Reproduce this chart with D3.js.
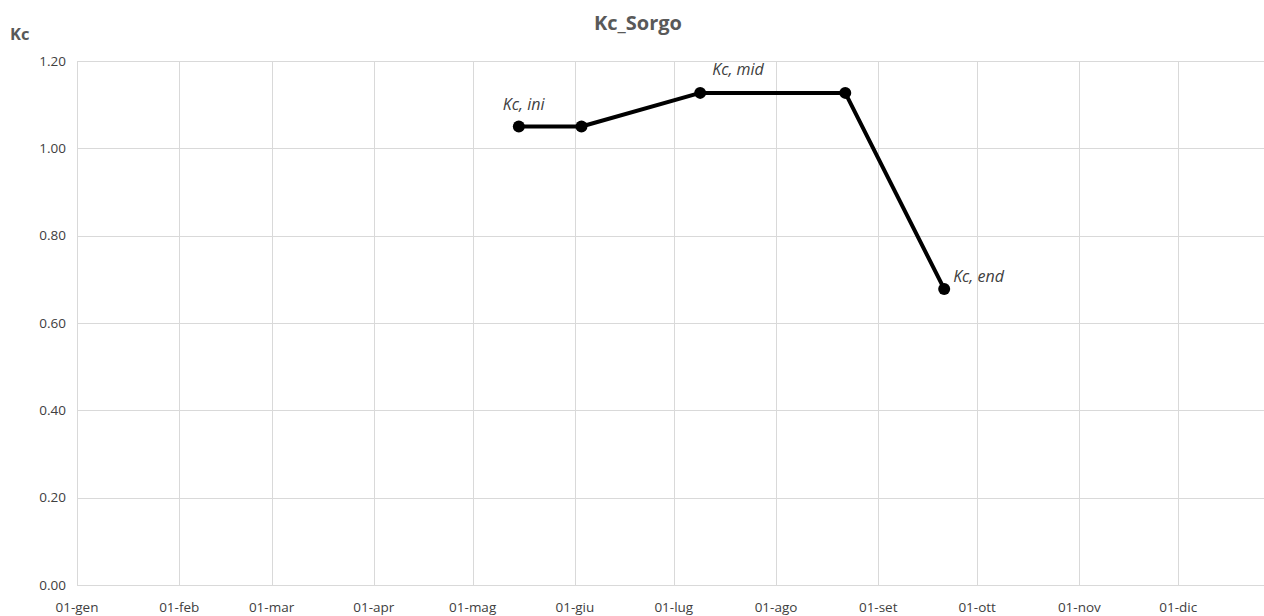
<!DOCTYPE html>
<html><head><meta charset="utf-8">
<script src="https://cdn.jsdelivr.net/npm/d3@7"></script>
<style>body{margin:0;background:#fff}svg{display:block}</style>
</head><body><svg id="c" width="1264" height="616"></svg>
<script>
const title = "Kc_Sorgo";
const yLabel = "Kc";
const dates = ["2021-05-15","2021-06-03","2021-07-09","2021-08-22","2021-09-21"];
const kcValues = [1.05, 1.05, 1.127, 1.127, 0.678];
const pointLabels = ["Kc, ini", null, "Kc, mid", null, "Kc, end"];
const monthTicks = ["01-gen","01-feb","01-mar","01-apr","01-mag","01-giu","01-lug","01-ago","01-set","01-ott","01-nov","01-dic"];
const yTicks = [0, 0.2, 0.4, 0.6, 0.8, 1.0, 1.2];

const parse = d3.timeParse("%Y-%m-%d");
const svg = d3.select("#c");
const L = 77, R = 1264, T = 61, B = 585;
const x = d3.scaleTime().domain([parse("2021-01-01"), parse("2021-12-27")]).range([L, R]);
const y = d3.scaleLinear().domain([0, 1.2]).range([B, T]);
const grid = "#d9d9d9";
const font = "'Open Sans', sans-serif";

const monthDates = d3.range(12).map(m => new Date(2021, m, 1));

// horizontal gridlines
svg.append("g").selectAll("line").data(yTicks).join("line")
  .attr("x1", L).attr("x2", R)
  .attr("y1", d => Math.round(y(d)) + 0.5).attr("y2", d => Math.round(y(d)) + 0.5)
  .attr("stroke", grid).attr("stroke-width", 1);
// vertical gridlines
svg.append("g").selectAll("line").data(monthDates).join("line")
  .attr("x1", d => Math.round(x(d)) + 0.5).attr("x2", d => Math.round(x(d)) + 0.5)
  .attr("y1", T).attr("y2", B)
  .attr("stroke", grid).attr("stroke-width", 1);

// y tick labels
svg.append("g").selectAll("text").data(yTicks).join("text")
  .attr("x", 66).attr("y", d => y(d)).attr("dy", "0.35em")
  .attr("text-anchor", "end").attr("font-family", font).attr("font-size", 13.5)
  .attr("fill", "#404040").text(d => d3.format(".2f")(d));

// x tick labels
svg.append("g").selectAll("text").data(monthDates).join("text")
  .attr("x", d => x(d)).attr("y", 607).attr("dy", "0.35em")
  .attr("text-anchor", "middle").attr("font-family", font).attr("font-size", 13.5)
  .attr("fill", "#404040").text((d, i) => monthTicks[i]);

// title
svg.append("text").attr("x", 638).attr("y", 23).attr("dy", "0.35em")
  .attr("text-anchor", "middle").attr("font-family", font).attr("font-weight", "bold")
  .attr("font-size", 20).attr("fill", "#595959").text(title);
// y axis label
svg.append("text").attr("x", 10).attr("y", 34).attr("dy", "0.35em")
  .attr("font-family", font).attr("font-weight", "bold")
  .attr("font-size", 16.5).attr("fill", "#595959").text(yLabel);

const data = dates.map((d, i) => ({date: parse(d), v: kcValues[i], label: pointLabels[i]}));

svg.append("path").datum(data)
  .attr("d", d3.line().x(d => x(d.date)).y(d => y(d.v)))
  .attr("fill", "none").attr("stroke", "#000").attr("stroke-width", 4).attr("stroke-linejoin", "round");

svg.append("g").selectAll("circle").data(data).join("circle")
  .attr("cx", d => x(d.date)).attr("cy", d => y(d.v)).attr("r", 6).attr("fill", "#000");

const offs = [{dx: -16, dy: -22}, null, {dx: 12, dy: -23}, null, {dx: 9, dy: -13}];
svg.append("g").selectAll("text").data(data.filter(d => d.label)).join("text")
  .attr("x", d => x(d.date) + offs[data.indexOf(d)].dx)
  .attr("y", d => y(d.v) + offs[data.indexOf(d)].dy).attr("dy", "0.35em")
  .attr("font-family", font).attr("font-style", "italic").attr("font-size", 16)
  .attr("fill", "#404040").text(d => d.label);
</script></body></html>
